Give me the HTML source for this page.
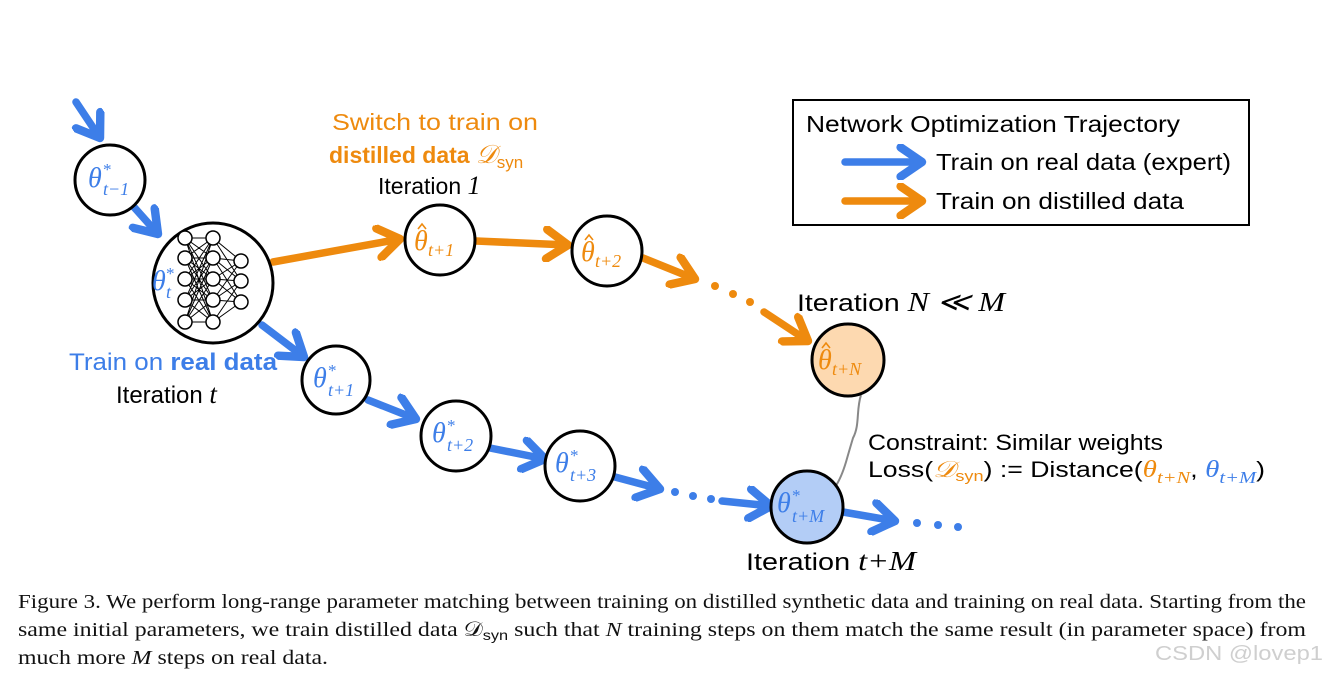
<!DOCTYPE html>
<html><head><meta charset="utf-8"><style>
html,body{margin:0;padding:0;background:#fff;}
svg{display:block}
.s{font-family:"Liberation Sans","DejaVu Sans",sans-serif}
.m{font-family:"Liberation Serif",serif;font-style:italic}
.cap{font-family:"Liberation Serif",serif;font-size:20.5px;fill:#111}
</style></head><body>
<svg width="1328" height="675" viewBox="0 0 1328 675" xmlns="http://www.w3.org/2000/svg">
<defs>
<marker id="hb" markerUnits="userSpaceOnUse" markerWidth="36" markerHeight="36" refX="24" refY="16" orient="auto" viewBox="0 0 32 32"><path d="M5,3 L24,16 L5,29" fill="none" stroke="#3d7ee8" stroke-width="7.5" stroke-linecap="round" stroke-linejoin="round"/></marker>
<marker id="ho" markerUnits="userSpaceOnUse" markerWidth="36" markerHeight="36" refX="24" refY="16" orient="auto" viewBox="0 0 32 32"><path d="M5,3 L24,16 L5,29" fill="none" stroke="#ee8a0e" stroke-width="7.5" stroke-linecap="round" stroke-linejoin="round"/></marker>
</defs>
<g stroke-width="7.5" stroke-linecap="round" fill="none">
<g stroke="#3d7ee8" marker-end="url(#hb)">
<line x1="76" y1="102" x2="100" y2="138"/>
<line x1="133" y1="206" x2="158" y2="234"/>
<line x1="262" y1="325" x2="304" y2="357"/>
<line x1="368" y1="400" x2="416" y2="419"/>
<line x1="490" y1="448" x2="545" y2="459"/>
<line x1="615" y1="477" x2="660" y2="489"/>
<line x1="722" y1="501" x2="771" y2="506"/>
<line x1="843" y1="512" x2="895" y2="521"/>
</g>
<g stroke="#ee8a0e" marker-end="url(#ho)">
<line x1="273" y1="262" x2="400" y2="239"/>
<line x1="476" y1="241" x2="568" y2="245"/>
<line x1="643" y1="258" x2="695" y2="279"/>
<line x1="764" y1="312" x2="808" y2="341"/>
</g>
</g>
<g fill="#3d7ee8"><circle cx="675" cy="492" r="4"/><circle cx="693" cy="496" r="4"/><circle cx="711" cy="499" r="4"/><circle cx="917" cy="523" r="4"/><circle cx="938" cy="525" r="4"/><circle cx="958" cy="527" r="4"/></g>
<g fill="#ee8a0e"><circle cx="715" cy="286" r="4"/><circle cx="733" cy="294" r="4"/><circle cx="750" cy="302" r="4"/></g>
<path d="M861,395 C856,410 860,425 853,438 C850,448 848,455 846,462 C843,472 840,480 835,487" stroke="#888" stroke-width="2" fill="none"/>
<g stroke="#000" stroke-width="3">
<circle cx="110" cy="180" r="35" fill="#fff"/>
<circle cx="213" cy="283" r="60" fill="#fff"/>
<circle cx="440" cy="240" r="35" fill="#fff"/>
<circle cx="607" cy="251" r="35" fill="#fff"/>
<circle cx="848" cy="360" r="36" fill="#fdd9b0"/>
<circle cx="336" cy="380" r="34" fill="#fff"/>
<circle cx="456" cy="436" r="35" fill="#fff"/>
<circle cx="580" cy="466" r="35" fill="#fff"/>
<circle cx="807" cy="507" r="36" fill="#b3cdf6"/>
</g>
<g stroke="#000" stroke-width="1">
<path d="M185,238 L213,238 M185,238 L213,258 M185,238 L213,279 M185,238 L213,300 M185,238 L213,322
M185,258 L213,238 M185,258 L213,258 M185,258 L213,279 M185,258 L213,300 M185,258 L213,322
M185,279 L213,238 M185,279 L213,258 M185,279 L213,279 M185,279 L213,300 M185,279 L213,322
M185,300 L213,238 M185,300 L213,258 M185,300 L213,279 M185,300 L213,300 M185,300 L213,322
M185,322 L213,238 M185,322 L213,258 M185,322 L213,279 M185,322 L213,300 M185,322 L213,322
M213,238 L241,261 M213,238 L241,281 M213,258 L241,261 M213,258 L241,281 M213,258 L241,302 M213,279 L241,261 M213,279 L241,281 M213,279 L241,302 M213,300 L241,261 M213,300 L241,281 M213,300 L241,302 M213,322 L241,281 M213,322 L241,302"/>
</g>
<g fill="#fff" stroke="#000" stroke-width="1.5">
<circle cx="185" cy="238" r="7"/><circle cx="185" cy="258" r="7"/><circle cx="185" cy="279" r="7"/><circle cx="185" cy="300" r="7"/><circle cx="185" cy="322" r="7"/>
<circle cx="213" cy="238" r="7"/><circle cx="213" cy="258" r="7"/><circle cx="213" cy="279" r="7"/><circle cx="213" cy="300" r="7"/><circle cx="213" cy="322" r="7"/>
<circle cx="241" cy="261" r="7"/><circle cx="241" cy="281" r="7"/><circle cx="241" cy="302" r="7"/>
</g>
<g class="m" fill="#3d7ee8">
<text x="88" y="187" font-size="28">θ</text><text x="103" y="175" font-size="17" font-style="normal">*</text><text x="103" y="195" font-size="18">t−1</text>
<text x="152" y="290" font-size="28">θ</text><text x="166" y="279" font-size="17" font-style="normal">*</text><text x="166" y="298" font-size="18">t</text>
<text x="313" y="387" font-size="28">θ</text><text x="328" y="376" font-size="17" font-style="normal">*</text><text x="328" y="396" font-size="18">t+1</text>
<text x="432" y="442" font-size="28">θ</text><text x="447" y="431" font-size="17" font-style="normal">*</text><text x="447" y="451" font-size="18">t+2</text>
<text x="555" y="472" font-size="28">θ</text><text x="570" y="461" font-size="17" font-style="normal">*</text><text x="570" y="481" font-size="18">t+3</text>
<text x="777" y="512" font-size="28">θ</text><text x="792" y="501" font-size="17" font-style="normal">*</text><text x="792" y="522" font-size="18">t+M</text>
</g>
<g class="m" fill="#ee8a0e">
<text x="414" y="250" font-size="28">θ</text><text x="428" y="256" font-size="18">t+1</text>
<text x="581" y="261" font-size="28">θ</text><text x="595" y="267" font-size="18">t+2</text>
<text x="818" y="369" font-size="28">θ</text><text x="832" y="375" font-size="18">t+N</text>
</g>
<g stroke="#ee8a0e" stroke-width="1.6" fill="none">
<path d="M418,229 L422,224 L426,229"/>
<path d="M585,240 L589,235 L593,240"/>
<path d="M822,348 L826,343 L830,348"/>
</g>
<text class="s" x="332" y="130" font-size="23" fill="#ee8a0e" textLength="206" lengthAdjust="spacingAndGlyphs">Switch to train on</text>
<text class="s" x="329" y="163" font-size="23" fill="#ee8a0e" font-weight="bold">distilled data <tspan class="m" font-weight="normal" font-size="26">𝒟</tspan><tspan font-weight="normal" font-size="17" dy="5">syn</tspan></text>
<text class="s" x="378" y="194" font-size="23" fill="#000">Iteration <tspan class="m" font-size="26">1</tspan></text>
<text class="s" x="69" y="370" font-size="24" fill="#3d7ee8" textLength="208" lengthAdjust="spacingAndGlyphs">Train on <tspan font-weight="bold">real data</tspan></text>
<text class="s" x="116" y="403" font-size="24" fill="#000">Iteration <tspan class="m" font-size="27">t</tspan></text>
<text class="s" x="797" y="311" font-size="24" fill="#000" textLength="208" lengthAdjust="spacingAndGlyphs">Iteration <tspan class="m" font-size="27">N ≪ M</tspan></text>
<text class="s" x="746" y="570" font-size="24" fill="#000" textLength="170" lengthAdjust="spacingAndGlyphs">Iteration <tspan class="m" font-size="27">t+M</tspan></text>
<text class="s" x="868" y="450" font-size="22" fill="#000" textLength="295" lengthAdjust="spacingAndGlyphs">Constraint: Similar weights</text>
<text class="s" x="868" y="477" font-size="22" fill="#000" textLength="397" lengthAdjust="spacingAndGlyphs">Loss(<tspan class="m" fill="#ee8a0e" font-size="23">𝒟</tspan><tspan fill="#ee8a0e" font-size="15" dy="4">syn</tspan><tspan dy="-4">) := Distance(</tspan><tspan class="m" fill="#ee8a0e" font-size="24">θ</tspan><tspan class="m" fill="#ee8a0e" font-size="17" dy="6">t+N</tspan><tspan dy="-6">, </tspan><tspan class="m" fill="#3d7ee8" font-size="24">θ</tspan><tspan class="m" fill="#3d7ee8" font-size="17" dy="6">t+M</tspan><tspan dy="-6">)</tspan></text>
<rect x="793" y="100" width="456" height="125" fill="none" stroke="#000" stroke-width="2"/>
<text class="s" x="806" y="132" font-size="23" fill="#000" textLength="374" lengthAdjust="spacingAndGlyphs">Network Optimization Trajectory</text>
<line x1="845" y1="162" x2="922" y2="162" stroke="#3d7ee8" stroke-width="7.5" stroke-linecap="round" marker-end="url(#hb)"/>
<line x1="845" y1="201" x2="922" y2="201" stroke="#ee8a0e" stroke-width="7.5" stroke-linecap="round" marker-end="url(#ho)"/>
<text class="s" x="936" y="170" font-size="23" fill="#000" textLength="295" lengthAdjust="spacingAndGlyphs">Train on real data (expert)</text>
<text class="s" x="936" y="209" font-size="23" fill="#000" textLength="248" lengthAdjust="spacingAndGlyphs">Train on distilled data</text>
<text class="cap" x="18" y="608" textLength="1288" lengthAdjust="spacingAndGlyphs">Figure 3. We perform long-range parameter matching between training on distilled synthetic data and training on real data. Starting from the</text>
<text class="cap" x="18" y="636" textLength="1288" lengthAdjust="spacingAndGlyphs">same initial parameters, we train distilled data 𝒟<tspan font-family="Liberation Sans" font-size="14" dy="4">syn</tspan><tspan dy="-4"> such that </tspan><tspan font-style="italic">N</tspan> training steps on them match the same result (in parameter space) from</text>
<text class="cap" x="18" y="664" textLength="310" lengthAdjust="spacingAndGlyphs">much more <tspan font-style="italic">M</tspan> steps on real data.</text>
<text class="s" x="1155" y="660" font-size="20" fill="#cfcfcf" textLength="168" lengthAdjust="spacingAndGlyphs">CSDN @lovep1</text>
</svg>
</body></html>
